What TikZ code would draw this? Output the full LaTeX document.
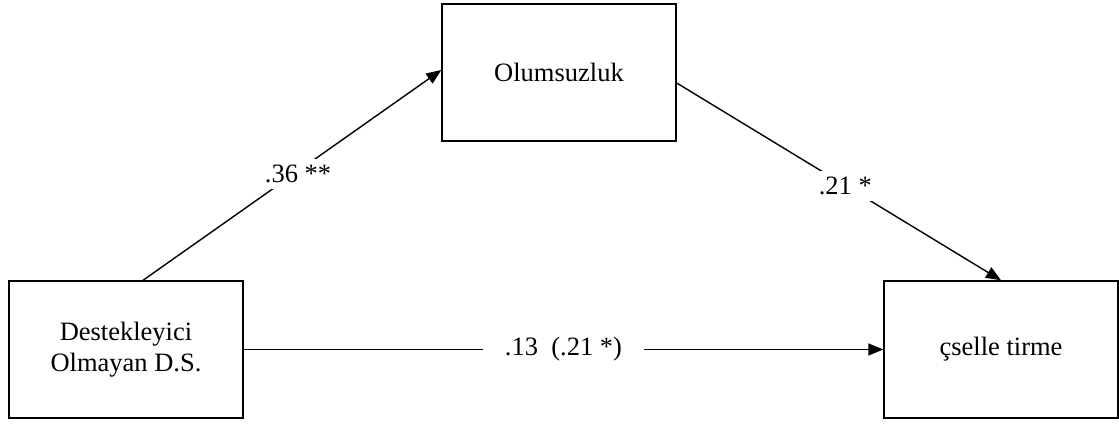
\documentclass[tikz,border=0pt]{standalone}
\usepackage{fontspec}
\setmainfont{Liberation Serif}
\usetikzlibrary{arrows.meta}
\begin{document}
\begin{tikzpicture}[x=1pt,y=-1pt,
  box/.style={draw,line width=1.4pt,minimum width=234pt,minimum height=137pt,inner sep=0pt,align=center,font=\fontsize{26.5}{31}\selectfont},
  conn/.style={line width=1.4pt,-{Triangle[length=15pt,width=12pt]}},
  lbl/.style={fill=white,inner sep=6pt,font=\fontsize{26.5}{31}\selectfont}]
\useasboundingbox (0,0) rectangle (1119,423);
\node[box] (t) at (559,72.5) {Olumsuzluk};
\node[box] (l) at (126,349.5) {Destekleyici\\Olmayan D.S.};
\node[box] (r) at (1001,349.5) {çselle tirme};
\draw[conn] ([xshift=17pt]l.north) -- node[lbl,pos=0.52,yshift=-3pt] {.36 **} ([yshift=2.5pt]t.west);
\draw[conn] ([yshift=-10.5pt]t.east) -- node[lbl,pos=0.52] {.21 *} (r.north);
\draw[conn] (l.east) -- node[lbl,inner xsep=22pt] {.13\ \ (.21 *)} (r.west);
\end{tikzpicture}
\end{document}
